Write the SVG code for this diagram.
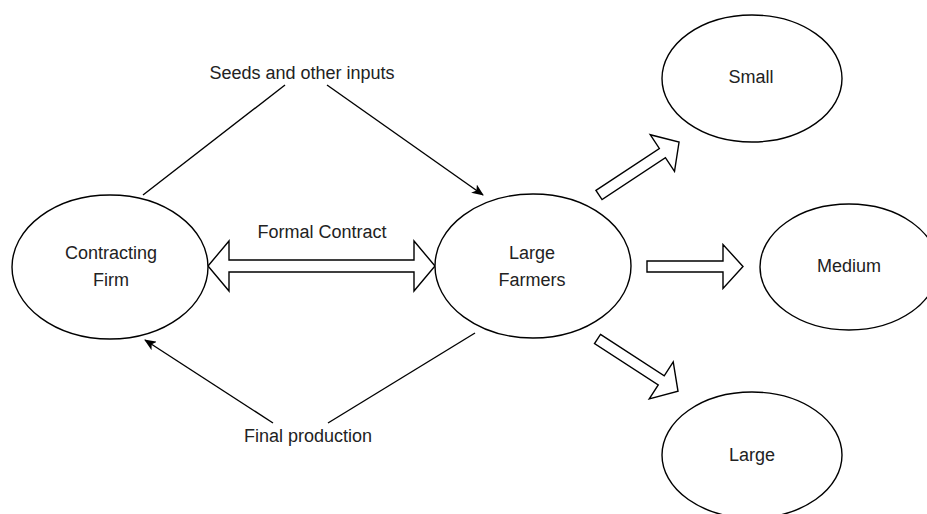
<svg xmlns="http://www.w3.org/2000/svg" width="927" height="514" viewBox="0 0 927 514">
<style>
.node ellipse{fill:#fff;stroke:#000;stroke-width:1.4}
text{font-family:"Liberation Sans",Arial,sans-serif;font-size:18px;fill:#222;text-anchor:middle}
.line{fill:none;stroke:#000;stroke-width:1.4}
.big{fill:#fff;stroke:#000;stroke-width:1.4;stroke-linejoin:miter}
</style>
<defs>
<marker id="ah" viewBox="0 0 12 10" refX="11" refY="5" markerWidth="12" markerHeight="10" markerUnits="userSpaceOnUse" orient="auto">
<path d="M0,0 L12,5 L0,10 L3,5 Z" fill="#000"/>
</marker>
<path id="fat" d="M0,-5.5 L76,-5.5 L76,-22 L96,0 L76,22 L76,5.5 L0,5.5 Z"/>
</defs>
<g id="connectors">
<path class="line" d="M143,195 L285,85"/>
<path class="line" d="M327,85 L483,195" marker-end="url(#ah)"/>
<path class="line" d="M475,333 L328,423"/>
<path class="line" d="M273,423 L145,340" marker-end="url(#ah)"/>
<path class="big" d="M208,266 L229,241 L229,260 L414,260 L414,241 L435,266 L414,291 L414,272 L229,272 L229,291 Z"/>
<use href="#fat" class="big" transform="translate(599,195) rotate(-33.5)"/>
<use href="#fat" class="big" transform="translate(647,266.5)"/>
<use href="#fat" class="big" transform="translate(597.5,339) rotate(33)"/>
<text x="302" y="79">Seeds and other inputs</text>
<text x="322" y="238">Formal Contract</text>
<text x="308" y="442">Final production</text>
</g>
<g id="contracting-firm" class="node">
<ellipse cx="110" cy="267" rx="98" ry="72"/>
<text x="111" y="259">Contracting</text>
<text x="111" y="286">Firm</text>
</g>
<g id="large-farmers" class="node">
<ellipse cx="533" cy="266" rx="98" ry="72"/>
<text x="532" y="259">Large</text>
<text x="532" y="286">Farmers</text>
</g>
<g id="small" class="node">
<ellipse cx="752" cy="78.5" rx="90" ry="63.5"/>
<text x="751" y="83">Small</text>
</g>
<g id="medium" class="node">
<ellipse cx="849" cy="267" rx="89" ry="63"/>
<text x="849" y="272">Medium</text>
</g>
<g id="large" class="node">
<ellipse cx="752" cy="455" rx="90" ry="63"/>
<text x="752" y="461">Large</text>
</g>
</svg>
